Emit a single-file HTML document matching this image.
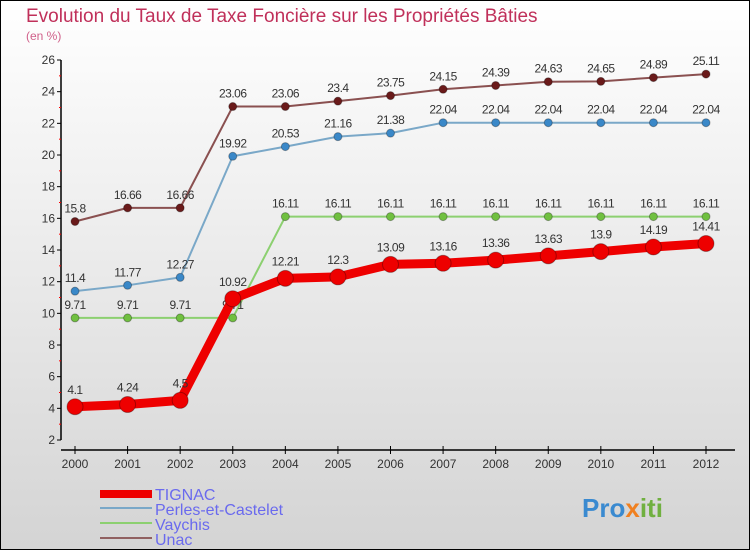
<!DOCTYPE html>
<html><head><meta charset="utf-8"><style>
body{margin:0}
#c{width:750px;height:550px;position:relative;font-family:"Liberation Sans",sans-serif}
</style></head><body>
<div id="c">
<svg id="s" width="750" height="550" xmlns="http://www.w3.org/2000/svg">
<defs><linearGradient id="bg" x1="0" y1="0" x2="0" y2="1"><stop offset="0" stop-color="#ffffff"/><stop offset="1" stop-color="#d4d4d4"/></linearGradient></defs>
<rect x="0.5" y="0.5" width="749" height="549" fill="url(#bg)" stroke="#000"/>
<text x="26" y="22" font-size="19" fill="#c0305a">Evolution du Taux de Taxe Foncière sur les Propriétés Bâties</text>
<text x="26" y="40" font-size="12" fill="#d0608a">(en %)</text>
<g id="axes"></g><g id="series"></g>
<g>
<rect x="100" y="490" width="52" height="8" fill="#e00"/>
<text x="155" y="500" font-size="16" fill="#6a6aee">TIGNAC</text>
<rect x="100" y="507" width="52" height="2" fill="#7aa8c8"/>
<text x="155" y="515" font-size="16" fill="#6a6aee">Perles-et-Castelet</text>
<rect x="100" y="522" width="52" height="2" fill="#8cd070"/>
<text x="155" y="530" font-size="16" fill="#6a6aee">Vaychis</text>
<rect x="100" y="537" width="52" height="2" fill="#906060"/>
<text x="155" y="545" font-size="16" fill="#6a6aee">Unac</text>
</g>
<text x="582" y="517" font-size="26" font-weight="bold" fill="#3a8ad0">Pro<tspan fill="#f08020">x</tspan><tspan fill="#70b040">iti</tspan></text>
</svg>
</div>
<script>
const years=[2000,2001,2002,2003,2004,2005,2006,2007,2008,2009,2010,2011,2012];
const yTicks=[2,4,6,8,10,12,14,16,18,20,22,24,26];
const tignac=[4.1,4.24,4.5,10.92,12.21,12.3,13.09,13.16,13.36,13.63,13.9,14.19,14.41];
const perles=[11.4,11.77,12.27,19.92,20.53,21.16,21.38,22.04,22.04,22.04,22.04,22.04,22.04];
const vaychis=[9.71,9.71,9.71,9.71,16.11,16.11,16.11,16.11,16.11,16.11,16.11,16.11,16.11];
const unac=[15.8,16.66,16.66,23.06,23.06,23.4,23.75,24.15,24.39,24.63,24.65,24.89,25.11];
const NS="http://www.w3.org/2000/svg";
const xS=i=>75+i*(706-75)/(years.length-1);
const yS=v=>440-(v-2)*(380/24);
function mk(t,a,p){const e=document.createElementNS(NS,t);for(const k in a)e.setAttribute(k,a[k]);p.appendChild(e);return e;}
const ax=document.getElementById('axes');
let l=mk('line',{x1:61,y1:60,x2:61,y2:440,stroke:'#000','stroke-width':1.5},ax);


l=mk('line',{x1:61,y1:450,x2:735,y2:450,stroke:'#000','stroke-width':1.5},ax);


yTicks.forEach(v=>{
 mk('line',{x1:57,y1:yS(v),x2:61,y2:yS(v),stroke:'#000'},ax);
 mk('line',{x1:59,y1:yS(v+1),x2:61,y2:yS(v+1),stroke:'#f00',opacity:v<26?1:0},ax);
 const t=mk('text',{x:55,y:yS(v)+4,'font-size':12,'text-anchor':'end',fill:'#333'},ax);t.textContent=v;
 
 
});
years.forEach((y,i)=>{
 mk('line',{x1:xS(i),y1:446,x2:xS(i),y2:454,stroke:'#000'},ax);
 const t=mk('text',{x:xS(i),y:468,'font-size':12,'text-anchor':'middle',fill:'#333'},ax);t.textContent=y;
 
 
});
const sg=document.getElementById('series');
function draw(data,name,col,dot,w,r,fs){
 const g=mk('g',{},sg);
 
 
 const pl=mk('polyline',{points:data.map((v,i)=>xS(i)+','+yS(v)).join(' '),fill:'none',stroke:col,'stroke-width':w,'stroke-linejoin':'round'},g);
 
 
 data.forEach((v,i)=>{
  const c=mk('circle',{cx:xS(i),cy:yS(v),r:r,fill:dot,stroke:'rgba(0,0,0,0.3)','stroke-width':1},g);
  
  
  const t=mk('text',{x:xS(i),y:yS(v)-r-5,'font-size':fs,'text-anchor':'middle',fill:'#333','letter-spacing':'-0.5'},g);
  t.textContent=String(v);
  
  
 });
}
draw(unac,'unac','#8a5050','#6a1a1a',2,4,12);
draw(perles,'perles','#7aa8c8','#3a88c8',2,4,12);
draw(vaychis,'vaychis','#8cd070','#70c040',2,4,12);
draw(tignac,'tignac','#ee0000','#ee0000',9,8,12);
</script>
</body></html>
